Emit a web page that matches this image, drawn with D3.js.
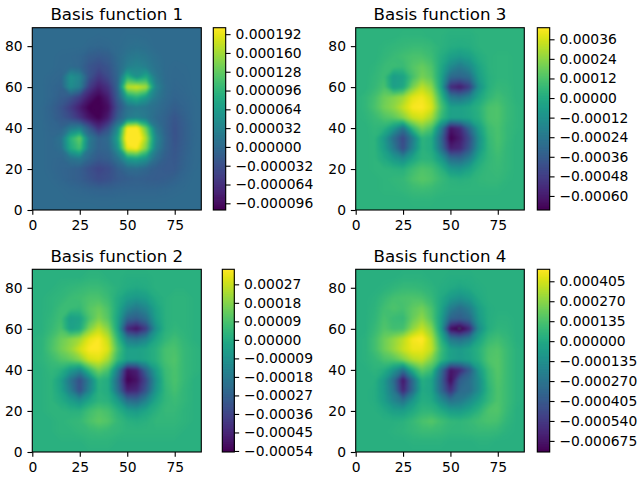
<!DOCTYPE html>
<html>
<head>
<meta charset="utf-8">
<script src="https://cdn.jsdelivr.net/npm/d3@7"></script>
<style>
body { margin: 0; background: #fff; }
svg { display: block; }
text { font-family: "DejaVu Sans"; fill: #000; }
</style>
</head>
<body>
<svg id="fig" width="640" height="480"></svg>
<script>
// values are in units of 1e-5, rows from y=90 down to y=0, columns x=0,5,...,90
var basis1 = [
[0,0,0,0,0,0,0,0,0,0,0,0,0,0,0,0,0,0,0],
[0,0,0,0,0,0,0,-.1,0,0,.2,.2,.1,0,0,0,0,0,0],
[0,0,0,0,0,0,-.3,-.5,-.3,0,.5,.8,.5,0,0,0,0,0,0],
[0,0,0,-.2,-.3,-.5,-1.5,-2,-1.5,0,1.5,2,1.5,.5,0,0,0,0,0],
[0,0,0,-.3,0,-.5,-2.5,-3.5,-2.5,-.2,2.5,3.5,2.5,1,0,-.2,-.1,0,0],
[0,0,-.3,-.5,5,3.5,-2.5,-5.5,-3.5,-.5,9,5,8,2,0,-.3,-.2,0,0],
[0,0,-.5,-1,4.5,2.5,-5,-8,-6,-.5,17,18,16,3.5,.3,-.5,-.3,0,0],
[0,0,-.5,-1.5,-2.5,-5,-8.5,-10.5,-8,-1.5,7,9,6,2,0,-.8,-.5,-.1,0],
[0,-.1,-1,-2.5,-5,-8,-10.7,-10.7,-9.5,-3,1,2,1.5,.5,-.5,-1.5,-.8,-.2,0],
[0,-.1,-.8,-2,-3.5,-6,-9,-10.5,-8,-1.5,2,3,2,0,-1,-2.5,-1.2,-.2,0],
[0,0,-.5,-.8,2,3,-2,-6.5,-3,4,20,21,13,2,-1,-2.8,-1.5,-.3,0],
[0,0,-.3,1,9,13,2,-1,0,7,22,23,16,4,-.5,-2.8,-1.5,-.3,0],
[0,0,-.3,.5,8,11,1.5,-1,-.5,5,19,20,14,3,-.8,-2.5,-1.3,-.2,0],
[0,0,-.3,-.5,1,2,-.5,-2,-1.5,1,6,7,5,.5,-1.5,-2.3,-1,-.2,0],
[0,0,-.3,-.7,-1,-1.5,-3,-4.2,-3.5,-1.5,0,.3,-.5,-1.5,-2,-2,-.8,-.1,0],
[0,0,-.1,-.5,-1,-1.5,-2.5,-3.5,-3,-2,-1.5,-1.2,-1.5,-1.7,-1.5,-1,-.4,0,0],
[0,0,0,-.1,-.3,-.5,-.8,-1,-1,-.8,-.7,-.7,-.7,-.7,-.5,-.3,-.1,0,0],
[0,0,0,0,-.1,-.1,-.1,-.2,-.2,-.1,-.1,-.1,-.1,-.1,-.1,0,0,0,0],
[0,0,0,0,0,0,0,0,0,0,0,0,0,0,0,0,0,0,0]
];
var basis2 = [
[2,2,2,2,2,2,2,2,2,2,2,2,2,2,2,2,2,2,2],
[2,2,2,2,2,2,3,3,2,2,1,1,1,2,2,2,2,2,2],
[2,2,2,3,4,5,6,6,4,2,0,-1,0,2,2,2,2,2,2],
[2,2,3,4,6,7,9,9,6,0,-5,-7,-5,0,2,3,3,2,2],
[2,2,3,6,6,5,11,14,9,-1,-13,-18,-13,-3,2,3,3,2,2],
[2,2,4,7,-5,-3,9,17,11,-3,-25,-28,-22,-5,2,3,3,2,2],
[2,2,5,9,-4,-1,17,26,18,-3,-44,-50,-38,-10,2,4,3,2,2],
[2,3,8,14,18,22,31,34,26,4,-17,-20,-14,-2,4,7,4,2,2],
[2,3,9,15,20,28,34,34,29,9,-4,-4,-2,2,8,9,5,3,2],
[2,3,6,10,13,18,28,30,22,5,-4,-4,-2,2,8,10,5,3,2],
[2,2,4,2,-6,-12,5,16,9,-16,-50,-46,-24,-5,6,9,5,3,2],
[2,2,3,-4,-20,-33,-16,3,0,-24,-54,-50,-34,-10,5,9,5,2,2],
[2,2,3,-3,-16,-32,-14,2,0,-21,-46,-44,-30,-8,4,8,4,2,2],
[2,2,3,0,-5,-10,-2,3,2,-6,-22,-24,-14,-2,4,6,4,2,2],
[2,2,3,3,2,2,7,10,8,2,-4,-6,-2,2,5,5,3,2,2],
[2,2,2,3,4,5,9,12,10,5,2,1,2,4,4,4,3,2,2],
[2,2,2,3,3,4,5,6,5,4,3,3,3,3,3,3,2,2,2],
[2,2,2,2,2,2,3,3,3,2,2,2,2,2,2,2,2,2,2],
[2,2,2,2,2,2,2,2,2,2,2,2,2,2,2,2,2,2,2]
];
var basis3 = [
[3,3,3,3,3,3,3,3,3,3,3,3,3,3,3,3,3,3,3],
[3,3,3,3,3,4,4,4,3,3,2,2,2,3,3,3,3,3,3],
[3,3,3,4,5,6,7,7,6,3,1,0,1,3,3,3,3,3,3],
[3,3,3,5,7,9,11,11,8,1,-5,-8,-5,1,3,4,4,3,3],
[3,3,4,7,8,7,13,17,12,-1,-15,-22,-15,-3,3,4,4,3,3],
[3,3,5,8,-7,-4,10,20,15,-3,-30,-32,-28,-6,2,4,4,3,3],
[3,3,6,11,-6,-2,20,32,24,-3,-54,-60,-48,-12,2,6,5,3,3],
[3,5,10,18,22,27,38,41,33,6,-22,-26,-18,-3,5,9,6,3,3],
[3,5,11,19,24,33,42,43,37,12,-5,-5,-2,3,11,12,7,4,3],
[3,4,7,12,15,22,33,36,28,7,-5,-5,-3,2,11,12,7,4,3],
[3,3,5,3,-8,-25,6,20,12,-20,-62,-55,-30,-6,8,11,6,4,3],
[3,3,4,-8,-28,-44,-22,4,0,-30,-68,-60,-42,-12,6,11,6,3,3],
[3,3,4,-6,-22,-42,-18,3,0,-26,-58,-55,-38,-10,5,10,5,3,3],
[3,3,4,-1,-8,-14,-3,4,3,-8,-28,-30,-20,-2,5,8,5,3,3],
[3,3,4,4,3,2,8,12,10,3,-8,-10,-4,3,6,7,5,3,3],
[3,3,3,4,5,6,11,14,12,7,3,2,3,5,6,6,4,3,3],
[3,3,3,4,4,5,7,8,7,5,4,4,4,4,4,4,3,3,3],
[3,3,3,3,3,3,4,4,4,3,3,3,3,3,3,3,3,3,3],
[3,3,3,3,3,3,3,3,3,3,3,3,3,3,3,3,3,3,3]
];
var basis4 = [
[3,3,3,3,3,3,3,3,3,3,3,3,3,3,3,3,3,3,3],
[3,3,3,3,3,4,4,4,3,3,2,2,2,3,3,3,3,3,3],
[3,3,3,4,6,8,8,7,5,2,0,-2,0,2,3,3,3,3,3],
[3,3,4,8,12,13,14,13,8,0,-8,-12,-8,0,3,3,3,3,3],
[3,3,5,11,14,12,18,22,13,-2,-22,-30,-22,-5,2,3,3,3,3],
[3,3,6,13,9,8,20,28,16,-5,-35,-38,-32,-8,2,4,4,3,3],
[3,3,8,15,11,12,28,38,26,-6,-70,-78,-62,-15,2,6,5,3,3],
[3,4,11,21,28,36,47,50,35,4,-25,-30,-22,-3,8,11,7,3,3],
[3,4,11,21,29,38,45,45,37,10,-5,-8,-3,4,13,15,9,4,3],
[3,4,7,13,16,24,34,37,25,7,-5,-8,-4,3,14,16,9,4,3],
[3,3,5,2,-10,-28,2,18,10,-28,-68,-60,-40,-8,9,16,9,4,3],
[3,3,3,-8,-30,-68,-32,2,-3,-34,-72,-38,-30,-14,7,15,9,4,3],
[3,3,2,-8,-26,-62,-32,0,-3,-32,-58,-32,-30,-14,5,14,9,4,3],
[3,3,2,-6,-18,-28,-10,2,0,-14,-28,-24,-15,-4,7,14,9,4,3],
[3,3,3,0,-5,-6,0,6,6,1,-6,-7,-2,5,14,15,8,3,3],
[3,3,3,3,3,4,8,13,16,11,7,6,8,11,13,12,6,3,3],
[3,3,3,3,4,5,7,9,9,8,6,6,7,8,8,7,4,3,3],
[3,3,3,3,3,3,4,4,4,4,3,3,3,4,4,3,3,3,3],
[3,3,3,3,3,3,3,3,3,3,3,3,3,3,3,3,3,3,3]
];

var titles = ["Basis function 1", "Basis function 2", "Basis function 3", "Basis function 4"];
var xTicks = [0, 25, 50, 75];
var yTicks = [0, 20, 40, 60, 80];

var ticks1 = [-96, -64, -32, 0, 32, 64, 96, 128, 160, 192];
var ticks2 = [-54, -45, -36, -27, -18, -9, 0, 9, 18, 27];
var ticks3 = [-60, -48, -36, -24, -12, 0, 12, 24, 36];
var ticks4 = [-675, -540, -405, -270, -135, 0, 135, 270, 405];

var svg = d3.select("#fig");
var tickLen = 4.86, tickPad = 4.86, lineW = 1.11;

var defs = svg.append("defs");
defs.append("filter").attr("id", "soft")
    .attr("x", "-5%").attr("y", "-5%").attr("width", "110%").attr("height", "110%")
    .attr("color-interpolation-filters", "sRGB")
    .append("feGaussianBlur").attr("stdDeviation", 1.2);

function styleAxis(g, fontSize) {
    g.attr("font-family", null).attr("font-size", null);
    g.selectAll("text").style("font-size", fontSize + "px");
    g.selectAll("line").attr("stroke", "#000").attr("stroke-width", lineW);
    g.select(".domain").remove();
}

function drawPanel(p, idx) {
    var x = d3.scaleLinear().domain([0, 89]).range([p.left, p.right]);
    var y = d3.scaleLinear().domain([0, 89]).range([p.bottom, p.top]);
    var color = d3.scaleSequential(d3.interpolateViridis).domain(p.range);

    var step = 5;
    var flat = p.values.reduce(function (a, b) { return a.concat(b); }, []);
    var thresholds = d3.range(0, 256).map(function (i) {
        return p.range[0] + (p.range[1] - p.range[0]) * i / 256;
    });
    var contours = d3.contours().size([19, 19]).smooth(true).thresholds(thresholds)(flat);

    var toPixels = d3.geoTransform({
        point: function (cx, cy) {
            this.stream.point(x((cx - 0.5) * step), y(90 - (cy - 0.5) * step));
        }
    });
    var path = d3.geoPath(toPixels);

    defs.append("clipPath").attr("id", "clip" + idx).append("rect")
        .attr("x", p.left).attr("y", p.top)
        .attr("width", p.right - p.left).attr("height", p.bottom - p.top);

    var img = svg.append("g").attr("clip-path", "url(#clip" + idx + ")")
        .append("g").attr("filter", "url(#soft)");
    img.append("rect")
        .attr("x", p.left - 10).attr("y", p.top - 10)
        .attr("width", p.right - p.left + 20).attr("height", p.bottom - p.top + 20)
        .attr("fill", color(p.values[0][0]));
    img.selectAll("path").data(contours).enter().append("path")
        .attr("d", path)
        .attr("fill", function (d) { return color(d.value); });

    svg.append("rect")
        .attr("x", p.left).attr("y", p.top)
        .attr("width", p.right - p.left).attr("height", p.bottom - p.top)
        .attr("fill", "none").attr("stroke", "#000").attr("stroke-width", lineW);

    var xAxis = d3.axisBottom(x).tickValues(xTicks).tickSize(tickLen).tickPadding(tickPad).tickFormat(d3.format("d"));
    svg.append("g").attr("transform", "translate(0," + p.bottom + ")").call(xAxis).call(styleAxis, 13.89);

    var yAxis = d3.axisLeft(y).tickValues(yTicks).tickSize(tickLen).tickPadding(tickPad).tickFormat(d3.format("d"));
    svg.append("g").attr("transform", "translate(" + p.left + ",0)").call(yAxis).call(styleAxis, 13.89);

    svg.append("text")
        .attr("x", (p.left + p.right) / 2)
        .attr("y", p.top - 7.5)
        .attr("text-anchor", "middle")
        .style("font-size", "16.67px")
        .text(p.title);

    // colorbar, each slice runs down to the bottom so no seams show
    var c = d3.scaleLinear().domain(p.range).range([p.bottom, p.top]);
    var levels = d3.range(255, -1, -1).map(function (i) {
        return p.range[0] + (p.range[1] - p.range[0]) * i / 256;
    });
    var slice = (p.range[1] - p.range[0]) / 256;
    svg.append("g").selectAll("rect").data(levels).enter().append("rect")
        .attr("x", p.barLeft)
        .attr("y", function (d) { return c(d + slice); })
        .attr("width", p.barRight - p.barLeft)
        .attr("height", function (d) { return p.bottom - c(d + slice); })
        .attr("fill", function (d) { return color(d); });
    svg.append("rect")
        .attr("x", p.barLeft).attr("y", p.top)
        .attr("width", p.barRight - p.barLeft).attr("height", p.bottom - p.top)
        .attr("fill", "none").attr("stroke", "#000").attr("stroke-width", lineW);

    var cAxis = d3.axisRight(c).tickValues(p.ticks).tickSize(tickLen).tickPadding(tickPad)
        .tickFormat(function (d) {
            var s = Math.abs(d / p.tickScale).toFixed(p.digits);
            return (d < 0 ? "\u2212" : "") + s;
        });
    svg.append("g").attr("transform", "translate(" + p.barRight + ",0)").call(cAxis).call(styleAxis, 13.89);
}

var panels = [
    { title: titles[0], values: basis1, range: [-10.74, 20.3], left: 32.3, right: 201.3, top: 27.7, bottom: 210,
      barLeft: 213.3, barRight: 225.7, ticks: ticks1.map(function (d) { return d / 10; }), tickScale: 1e5, digits: 6 },
    { title: titles[2], values: basis3, range: [-68.6, 43.1], left: 355.7, right: 524.3, top: 27.7, bottom: 210,
      barLeft: 537.3, barRight: 549.7, ticks: ticks3, tickScale: 1e5, digits: 5 },
    { title: titles[1], values: basis2, range: [-54.5, 34.3], left: 32.3, right: 201.3, top: 269.3, bottom: 452,
      barLeft: 222.3, barRight: 234.3, ticks: ticks2, tickScale: 1e5, digits: 5 },
    { title: titles[3], values: basis4, range: [-75, 48.6], left: 355.7, right: 524.3, top: 269.3, bottom: 452,
      barLeft: 537.3, barRight: 549.7, ticks: ticks4.map(function (d) { return d / 10; }), tickScale: 1e5, digits: 6 }
];

panels.forEach(drawPanel);
</script>
</body>
</html>
